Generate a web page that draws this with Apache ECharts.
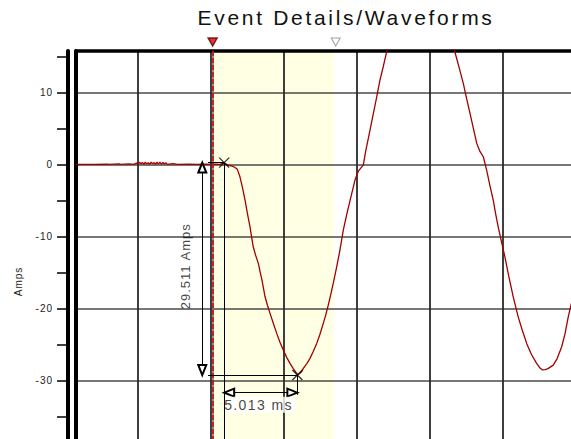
<!DOCTYPE html>
<html><head><meta charset="utf-8">
<script src="https://cdn.jsdelivr.net/npm/echarts@6/dist/echarts.min.js"></script>
<style>
html,body{margin:0;padding:0;background:#fff;}
#c{width:571px;height:439px;}
#c text{letter-spacing:1px;}
#c text[style*="21px"]{letter-spacing:2.7px;}
#c text[style*="14px"]{letter-spacing:1.4px;}
</style></head><body><div id="c"></div>
<script>
// ---- data ----
const chartTitle = 'Event Details/Waveforms';
const yAxisName = 'Amps';
const timeRange = [-9.25, 25];        // ms (x extent of the plot)
const ampRange = [-38.14, 15.75];     // Amps (y extent of the plot)
const yTickValues = [-35, -30, -25, -20, -15, -10, -5, 0, 5, 10, 15];
const yLabelValues = [-30, -20, -10, 0, 10];
const yGridValues = [-30, -20, -10, 0, 10];
const xGridValues = [-5, 0, 5, 10, 15, 20];

const waveform = [
  [-9.25,0],[-8,0],[-7.1,0.05],[-7,0],[-6.3,0.06],[-6.2,0],[-5.6,0.08],[-5.3,0],[-5.1,0.18],[-5.0,0.02],
  [-4.9,0.3],[-4.8,0.05],[-4.7,0.28],[-4.6,0],[-4.5,0.32],[-4.4,0.05],[-4.3,0.22],[-4.2,0],[-4.1,0.3],
  [-4.0,0.08],[-3.9,0.25],[-3.8,0.02],[-3.7,0.3],[-3.6,0.05],[-3.5,0.32],[-3.4,0.02],[-3.3,0.28],
  [-3.2,0.05],[-3.1,0.25],[-3.0,0],[-2.6,0.1],[-2.3,0],[-1.5,0.05],[-1.0,0],[-0.3,0.02],[0,0],
  [0.3,0.05],[0.6,0.0],[0.9,0.2],[1.16,-0.1],[1.44,-0.24],[1.62,-0.4],[1.8,-0.69],[1.98,-1.72],
  [2.15,-3.2],[2.33,-4.96],[2.5,-6.9],[2.67,-8.67],[2.78,-10.1],[2.89,-11.44],[3.05,-12.6],[3.24,-13.75],
  [3.37,-15.0],[3.49,-16.07],[3.6,-17.3],[3.70,-18.39],[3.87,-19.6],[4.04,-20.69],[4.27,-22.1],[4.50,-23.47],
  [4.72,-24.7],[4.95,-25.79],[5.18,-26.8],[5.41,-27.64],[5.64,-28.4],[5.87,-29.03],[5.95,-29.2],[6.09,-29.0],
  [6.2,-28.8],[6.32,-28.33],[6.55,-27.7],[6.78,-26.94],[7.0,-26.0],[7.24,-24.86],[7.46,-23.6],[7.69,-22.08],
  [7.86,-20.9],[8.03,-19.54],[8.2,-18.1],[8.37,-16.53],[8.6,-14.3],[8.83,-11.90],[9.06,-9.13],[9.3,-6.9],
  [9.55,-4.8],[9.86,-2.18],[10.1,-0.9],[10.43,-0.1],[10.6,1.9],[10.89,4.76],[11.12,7.1],[11.35,9.39],
  [11.57,11.71],[11.8,13.6],[12.03,15.64],[12.3,17.8],[12.6,20.2],[12.95,22.7],[13.28,24.8],[13.7,26.9],
  [14.0,28.0],[14.31,28.6],[14.7,28.4],[15.0,27.6],[15.34,26.1],[15.7,23.9],[16.03,21.2],[16.4,18.3],
  [16.70,15.64],[17.0,13.4],[17.28,11.25],[17.5,9.2],[17.74,7.08],[17.97,5.0],[18.20,2.92],[18.42,1.8],
  [18.65,1.06],[18.88,-0.79],[19.1,-2.9],[19.33,-4.96],[19.5,-6.9],[19.67,-8.67],[19.9,-10.8],[20.13,-12.83],
  [20.4,-15.6],[20.70,-18.39],[21.04,-21.17],[21.3,-22.9],[21.62,-24.86],[21.95,-26.4],[22.30,-27.64],
  [22.5,-28.2],[22.70,-28.54],[22.9,-28.5],[23.08,-28.36],[23.44,-27.88],[23.7,-27.0],[24.02,-25.33],
  [24.25,-23.5],[24.47,-21.17],[24.66,-19.5],[25,-17.2]
];

const triggerTime = 0.11;
const shadeRange = [0.13, 8.42];
const markerRowAmp = 17;
const endMarkerTime = 8.54;
const cursor1 = [0.9, 0.25];
const cursor2 = [5.913, -29.26];
const deltaAmpsLabel = '29.511 Amps';
const deltaTimeLabel = '5.013 ms';
const ampArrowTime = -0.6;
const extLeftTime = -0.21;
const timeArrowAmp = -31.7;
const extBottomAmp = -32.0;
const ampLabelPos = [-1.72, -14.15];
const timeLabelPos = [3.39, -33.4];

// ---- chart ----
const FONT = '"Liberation Sans", Arial, sans-serif';
const chart = echarts.init(document.getElementById('c'), null, {renderer: 'svg'});

const blackLine = {color: '#000', width: 1, type: 'solid'};
const arrowOffset = [0, 5];

chart.setOption({
  animation: false,
  backgroundColor: '#fff',
  textStyle: {fontFamily: FONT},
  graphic: [
    {type: 'text', x: 346, y: 17, style: {text: chartTitle, align: 'center', verticalAlign: 'middle',
      font: '21px ' + FONT, fill: '#111'}},
    {type: 'text', x: 18, y: 281.5, rotation: Math.PI / 2, style: {text: yAxisName, align: 'center',
      verticalAlign: 'middle', font: '10px ' + FONT, fill: '#222'}}
  ],
  grid: {left: 76, top: 51, right: -5, bottom: 0, containLabel: false, outerBoundsMode: 'none'},
  xAxis: {
    type: 'value', position: 'top', min: timeRange[0], max: timeRange[1], z: 3,
    axisLine: {show: true, onZero: false, lineStyle: {color: '#000', width: 3.5}},
    axisTick: {show: false, customValues: xGridValues},
    axisLabel: {show: false},
    splitLine: {show: true, lineStyle: {color: '#2a2a2a', width: 1.8}}
  },
  yAxis: [
    {
      type: 'value', position: 'left', offset: 8, min: ampRange[0], max: ampRange[1], z: 3,
      axisLine: {show: true, onZero: false, lineStyle: {color: '#000', width: 4}},
      axisTick: {show: true, customValues: yTickValues, length: 11, lineStyle: {color: '#000', width: 1.5}},
      axisLabel: {show: true, customValues: yLabelValues, margin: 15, fontSize: 10, color: '#222', fontFamily: FONT},
      splitLine: {show: false}
    },
    {
      type: 'value', position: 'left', offset: 0, min: ampRange[0], max: ampRange[1], z: 3,
      axisLine: {show: true, onZero: false, lineStyle: {color: '#000', width: 4}},
      axisTick: {show: false, customValues: yGridValues},
      axisLabel: {show: false},
      splitLine: {show: true, lineStyle: {color: '#4a4a4a', width: 1.6}}
    }
  ],
  series: [
    {
      type: 'line', data: [], z: 0, silent: true,
      markArea: {z: 0, silent: true, itemStyle: {color: '#FFFFE4'},
        data: [[{xAxis: shadeRange[0]}, {xAxis: shadeRange[1]}]]}
    },
    {
      type: 'line', data: waveform, z: 5, showSymbol: false, symbol: 'none', clip: true,
      lineStyle: {color: '#A00000', width: 1.3}
    },
    {
      type: 'line', data: [], z: 6, silent: true,
      markLine: {
        z: 6, silent: true, symbol: ['none', 'none'], label: {show: false}, animation: false,
        lineStyle: blackLine,
        data: [
          [{xAxis: shadeRange[1], lineStyle: {color: '#bbbbbb', width: 1}}, {xAxis: shadeRange[1]}].map(d => d),
          [{coord: [triggerTime, ampRange[1]], lineStyle: {color: '#777', width: 1.6, type: 'solid'}}, {coord: [triggerTime, ampRange[0]]}],
          [{coord: [triggerTime, ampRange[1]], lineStyle: {color: '#e00000', width: 1.6, type: [5, 2]}}, {coord: [triggerTime, ampRange[0]]}],
          [{coord: [cursor1[0], cursor1[1]]}, {coord: [cursor1[0], ampRange[0]]}],
          [{coord: [extLeftTime, cursor1[1]]}, {coord: [cursor1[0], cursor1[1]]}],
          [{coord: [extLeftTime, cursor2[1]]}, {coord: [cursor2[0], cursor2[1]]}],
          [{coord: [cursor2[0], cursor2[1]]}, {coord: [cursor2[0], extBottomAmp]}],
          [{coord: [ampArrowTime, cursor1[1]], symbol: 'emptyTriangle', symbolSize: [8, 10], symbolOffset: arrowOffset},
           {coord: [ampArrowTime, cursor2[1]], symbol: 'emptyTriangle', symbolSize: [8, 10], symbolOffset: arrowOffset}],
          [{coord: [cursor1[0], timeArrowAmp], symbol: 'emptyTriangle', symbolSize: [8, 10], symbolOffset: arrowOffset},
           {coord: [cursor2[0], timeArrowAmp], symbol: 'emptyTriangle', symbolSize: [8, 10], symbolOffset: arrowOffset}]
        ]
      }
    },
    {
      type: 'scatter', z: 7, silent: true, clip: false,
      symbol: 'path://M0,0L10,10M10,0L0,10', symbolSize: 10,
      itemStyle: {color: 'rgba(0,0,0,0)', borderColor: '#000', borderWidth: 1.3},
      data: [cursor1, cursor2]
    },
    {
      type: 'scatter', z: 7, silent: true, clip: false, symbol: 'triangle', symbolRotate: 180, symbolSize: [9, 8],
      data: [
        {value: [triggerTime, markerRowAmp], itemStyle: {color: '#e00000', borderColor: '#5a0000', borderWidth: 1.5}},
        {value: [endMarkerTime, markerRowAmp], itemStyle: {color: '#fff', borderColor: '#8a8a8a', borderWidth: 1}}
      ]
    },
    {
      type: 'scatter', z: 8, silent: true, clip: false, symbolSize: 1,
      itemStyle: {color: 'rgba(0,0,0,0)'},
      label: {show: true, position: 'inside', formatter: p => p.name, color: '#111', fontFamily: FONT},
      data: [
        {name: deltaAmpsLabel, value: ampLabelPos, label: {rotate: 90, fontSize: 13}},
        {name: deltaTimeLabel, value: timeLabelPos, label: {fontSize: 14, backgroundColor: '#fff', padding: [1, 8, 1, 4]}}
      ]
    }
  ]
});
</script></body></html>
